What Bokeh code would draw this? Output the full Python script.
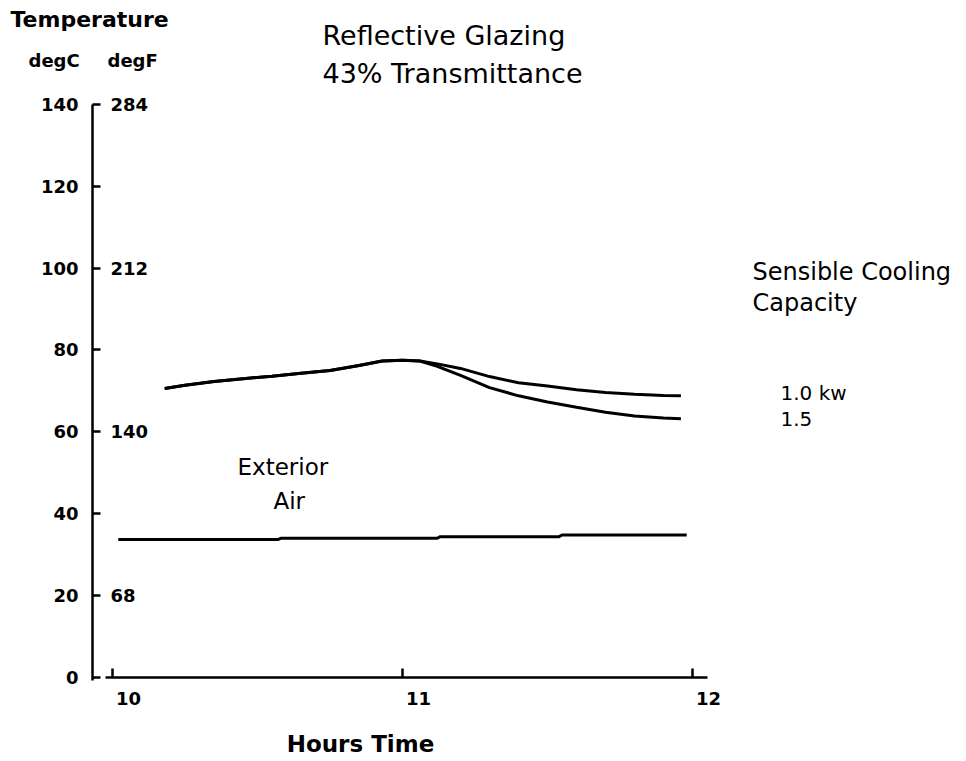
from bokeh.plotting import figure
from bokeh.models import (Range1d, FixedTicker, Label, LabelSet, ColumnDataSource,
                          CustomJSTickFormatter, LinearAxis)
from bokeh.core.properties import value
from bokeh.embed import file_html
from bokeh.resources import INLINE

# ---- data ----
hours_1kw = [10.18, 10.25, 10.35, 10.45, 10.55, 10.65, 10.75, 10.85, 10.93, 11.00, 11.06,
             11.12, 11.20, 11.30, 11.40, 11.50, 11.60, 11.70, 11.80, 11.90, 11.96]
temp_1kw = [70.6, 71.4, 72.3, 73.0, 73.6, 74.3, 75.0, 76.2, 77.3, 77.5, 77.3,
            76.6, 75.5, 73.5, 72.0, 71.2, 70.3, 69.6, 69.2, 68.9, 68.8]
hours_15kw = [10.18, 10.25, 10.35, 10.45, 10.55, 10.65, 10.75, 10.85, 10.93, 11.00, 11.06,
              11.12, 11.20, 11.30, 11.40, 11.50, 11.60, 11.70, 11.80, 11.90, 11.96]
temp_15kw = [70.6, 71.4, 72.3, 73.0, 73.6, 74.3, 75.0, 76.2, 77.3, 77.5, 77.3,
             76.0, 73.8, 70.8, 68.8, 67.3, 66.0, 64.8, 63.9, 63.4, 63.2]
hours_air = [10.02, 10.57, 10.58, 11.12, 11.13, 11.54, 11.55, 11.98]
temp_air = [33.7, 33.7, 34.0, 34.0, 34.4, 34.4, 34.8, 34.8]

degC_ticks = [0, 20, 40, 60, 80, 100, 120, 140]
degF_at_C = [140, 100, 60, 20]
degF_labels = ["284", "212", "140", "68"]
hour_ticks = [10, 11, 12]
hour_labels = ["10", "11", "12"]

# ---- layout: the frame covers the whole canvas ----
W, H = 966, 761
PX_H = 290.0      # px per hour
PX_D = 4.094      # px per degC
X10 = 112         # canvas x of 10 h
Y0C = 677         # canvas y of 0 degC

def hx(X):   # canvas pixel -> hour (annotation placement)
    return 10 + (X - X10) / PX_H

def dy(Y):   # canvas pixel -> degC (annotation placement)
    return (Y0C - Y) / PX_D

FONT = "DejaVu Sans"

p = figure(width=W, height=H, x_range=Range1d(hx(0), hx(W)), y_range=Range1d(dy(H), dy(0)),
           output_backend="svg", toolbar_location=None, title=None,
           x_axis_location=None, y_axis_location=None, min_border=0)
p.outline_line_color = None
p.xgrid.visible = False
p.ygrid.visible = False
p.background_fill_color = "white"
p.border_fill_color = "white"

xa = LinearAxis(fixed_location=0)
xa.ticker = FixedTicker(ticks=hour_ticks)
xa.formatter = CustomJSTickFormatter(code="return ''")
xa.major_tick_in = 9
xa.major_tick_out = 0
xa.minor_tick_line_color = None
xa.axis_line_width = 2.5
xa.major_tick_line_width = 2.5
xa.axis_line_color = "black"
xa.major_tick_line_color = "black"
xa.bounds = (hx(105), hx(707))
p.add_layout(xa, "below")

ya = LinearAxis(fixed_location=hx(92))
ya.ticker = FixedTicker(ticks=degC_ticks)
ya.major_tick_in = 8
ya.major_tick_out = 0
ya.minor_tick_line_color = None
ya.axis_line_width = 2.5
ya.major_tick_line_width = 2.5
ya.axis_line_color = "black"
ya.major_tick_line_color = "black"
ya.bounds = (dy(680), 140)
ya.major_label_standoff = 14
ya.major_label_text_font = FONT
ya.major_label_text_font_style = "bold"
ya.major_label_text_font_size = "18px"
ya.major_label_text_color = "black"
p.add_layout(ya, "left")

# data lines
p.line(hours_1kw, temp_1kw, line_width=3, line_color="black")
p.line(hours_15kw, temp_15kw, line_width=3, line_color="black")
p.line(hours_air, temp_air, line_width=3, line_color="black")

# degF labels just right of the axis
src_f = ColumnDataSource(dict(x=[hx(92)] * len(degF_at_C), y=degF_at_C, t=degF_labels))
p.add_layout(LabelSet(x="x", y="y", text="t", source=src_f, x_offset=18,
                      text_font=value(FONT), text_font_style="bold", text_font_size="18px",
                      text_align="left", text_baseline="middle", text_color="black"))

# hour labels
src_h = ColumnDataSource(dict(x=hour_ticks, y=[dy(698)] * len(hour_ticks), t=hour_labels))
p.add_layout(LabelSet(x="x", y="y", text="t", source=src_h, x_offset=16,
                      text_font=value(FONT), text_font_style="bold", text_font_size="18px",
                      text_align="center", text_baseline="middle", text_color="black"))

def lab(text, X, Y, size, style="normal", align="left"):
    p.add_layout(Label(x=hx(X), y=dy(Y), text=text, text_font=FONT,
                       text_font_size=size, text_font_style=style,
                       text_align=align, text_baseline="middle", text_color="black"))

lab("Temperature", 10, 19, "22px", "bold")
lab("degC", 28, 60, "18px", "bold")
lab("degF", 107, 60, "18px", "bold")
lab("Reflective Glazing", 322, 35, "27px")
lab("43% Transmittance", 322, 73, "27px")
lab("Sensible Cooling", 752, 271, "24px")
lab("Capacity", 752, 302, "24px")
lab("1.0 kw", 780, 392, "20px")
lab("1.5", 780, 418, "20px")
lab("Exterior", 237, 466, "23px")
lab("Air", 273, 500, "23px")
lab("Hours Time", 360, 743, "23px", "bold", "center")

open("out.html", "w").write(file_html(p, INLINE))
